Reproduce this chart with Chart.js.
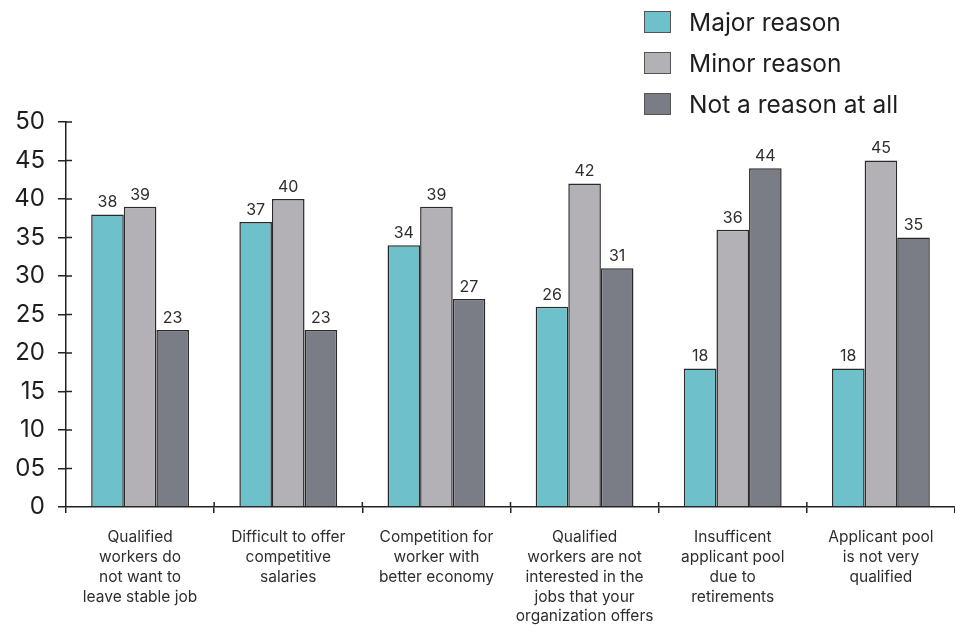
<!DOCTYPE html>
<html>
<head>
<meta charset="utf-8">
<script src="https://cdn.jsdelivr.net/npm/chart.js@4/dist/chart.umd.min.js"></script>
<style>
  body { margin: 0; background: #fff; font-family: Inter, Roboto, sans-serif; }
  #wrap { position: relative; width: 955px; height: 625px; }
  #legend { position: absolute; left: 644px; top: 11px; }
  .leg-row { display: flex; align-items: center; height: 22px; margin-bottom: 19px; }
  .leg-box { width: 27px; height: 22px; border: 1px solid #555; box-sizing: border-box; margin-right: 18px; }
  .leg-text { font-size: 24.5px; color: #1e1e1e; line-height: 22px; }
</style>
</head>
<body>
<div id="wrap">
  <canvas id="chart" width="955" height="625"></canvas>
  <div id="legend"></div>
</div>
<script>
const categorias = [
  ['Qualified', 'workers do', 'not want to', 'leave stable job'],
  ['Difficult to offer', 'competitive', 'salaries'],
  ['Competition for', 'worker with', 'better economy'],
  ['Qualified', 'workers are not', 'interested in the', 'jobs that your', 'organization offers'],
  ['Insufficent', 'applicant pool', 'due to', 'retirements'],
  ['Applicant pool', 'is not very', 'qualified'],
]
const major     = [38, 37, 34, 26, 18, 18]
const minor     = [39, 40, 39, 42, 36, 45]
const notReason = [23, 23, 27, 31, 44, 35]

const CORES = { major: '#6ec1ca', minor: '#b3b1b5', not: '#7a7d85' }
const FONTE = 'Inter, Roboto, sans-serif'

const valorLabels = {
  id: 'valorLabels',
  afterDatasetsDraw(chart) {
    const ctx = chart.ctx
    ctx.save()
    ctx.font = `16px ${FONTE}`
    ctx.fillStyle = '#2e2e2e'
    ctx.textAlign = 'center'
    ctx.textBaseline = 'bottom'
    chart.data.datasets.forEach((ds, i) => {
      chart.getDatasetMeta(i).data.forEach((bar, j) => {
        ctx.fillText(ds.data[j], bar.x, bar.y - 4)
      })
    })
    ctx.restore()
  }
}

// ticks that cross the axis line
const ticksCruzados = {
  id: 'ticksCruzados',
  afterDraw(chart) {
    const ctx = chart.ctx
    const y = chart.scales.y, x = chart.scales.x
    ctx.save()
    ctx.strokeStyle = '#222'
    ctx.lineWidth = 1.5
    y.ticks.forEach((t, i) => {
      if (i === 0) return
      const py = y.getPixelForTick(i)
      ctx.beginPath(); ctx.moveTo(y.right, py); ctx.lineTo(y.right + 6, py); ctx.stroke()
    })
    for (let i = 1; i < categorias.length; i++) {
      const px = (x.getPixelForTick(i - 1) + x.getPixelForTick(i)) / 2
      ctx.beginPath(); ctx.moveTo(px, x.top); ctx.lineTo(px, x.top - 5); ctx.stroke()
    }
    ctx.restore()
  }
}

const chart = new Chart(document.getElementById('chart'), {
  type: 'bar',
  data: {
    labels: categorias,
    datasets: [
      { label: 'Major reason', data: major, backgroundColor: CORES.major },
      { label: 'Minor reason', data: minor, backgroundColor: CORES.minor },
      { label: 'Not a reason at all', data: notReason, backgroundColor: CORES.not },
    ].map(d => ({ ...d, borderColor: '#2a2a2a', borderWidth: 1.5, categoryPercentage: 0.66, barPercentage: 1 })),
  },
  options: {
    responsive: false,
    animation: false,
    layout: { padding: { top: 122, left: 0, right: 0, bottom: 0 } },
    plugins: { legend: { display: false }, tooltip: { enabled: false } },
    scales: {
      x: {
        grid: { display: true, drawOnChartArea: false, drawTicks: true, tickLength: 6, color: '#222', lineWidth: 1.5, offset: true },
        border: { color: '#222', width: 1.5 },
        ticks: { color: '#2e2e2e', font: { family: FONTE, size: 15.5, lineHeight: 1.27 }, padding: 15, maxRotation: 0, autoSkip: false },
        afterFit: s => { s.height = 118 },
      },
      y: {
        min: 0, max: 50,
        grid: { display: true, drawOnChartArea: false, drawTicks: true, tickLength: 8, color: '#222', lineWidth: 1.5 },
        border: { color: '#222', width: 1.5 },
        ticks: {
          stepSize: 5, padding: 13, color: '#1e1e1e',
          font: { family: FONTE, size: 24 },
          callback: v => v === 5 ? '05' : String(v),
        },
        afterFit: s => { s.width = 66 },
      },
    },
  },
  plugins: [valorLabels, ticksCruzados],
})

document.getElementById('legend').innerHTML = chart.data.datasets.map(ds => `
  <div class="leg-row">
    <div class="leg-box" style="background:${ds.backgroundColor}"></div>
    <span class="leg-text">${ds.label}</span>
  </div>`).join('')
</script>
</body>
</html>
